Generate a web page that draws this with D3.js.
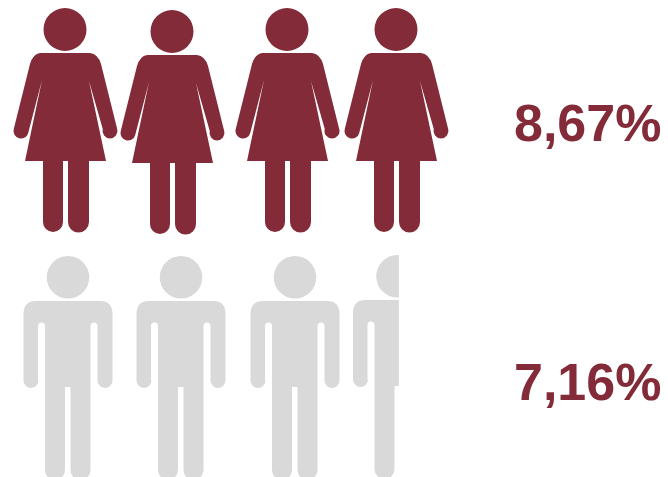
<!DOCTYPE html>
<html><head><meta charset="utf-8">
<script src="https://cdn.jsdelivr.net/npm/d3@7/dist/d3.min.js"></script>
<style>html,body{margin:0;padding:0;background:#fff}svg{display:block}</style>
</head><body>
<script>
const groups = ["Mujeres", "Hombres"];
const rates = ["8,67%", "7,16%"];
const iconCounts = [4, 3.515];

const W = 668, H = 477;
const maroon = "#832b38", gray = "#d9d9d9";
const slotX = [
  d3.scaleOrdinal().domain([0,1,2,3]).range([65,172,287,396]),
  d3.scaleOrdinal().domain([0,1,2,3]).range([68,181,295,397.5])
];
const slotY = [
  d3.scaleOrdinal().domain([0,1,2,3]).range([8,10,8,8]),
  d3.scaleOrdinal().domain([0,1,2,3]).range([256,256,256,255])
];
const color = d3.scaleOrdinal().domain(groups).range([maroon, gray]);
const textY = d3.scaleOrdinal().domain(groups).range([141, 400]);

function womanPath(){
  const p = d3.path();
  const a = 15*Math.PI/180;
  p.moveTo(-25,45);
  p.lineTo(25,45);
  p.quadraticCurveTo(33,46,36,56);
  p.lineTo(52.2,121);
  p.arc(45,123,7.5,-a,Math.PI+a);
  p.lineTo(24,73);
  p.lineTo(41,153);
  p.lineTo(24,153);
  p.lineTo(24,214);
  p.arc(13.5,214,10.5,0,Math.PI);
  p.lineTo(3,153);
  p.lineTo(-2,153);
  p.lineTo(-2,214);
  p.arc(-12,214,10,0,Math.PI);
  p.lineTo(-22,153);
  p.lineTo(-40,153);
  p.lineTo(-23,72);
  p.lineTo(-36.8,125);
  p.arc(-44,123,7.5,a,Math.PI+a);
  p.lineTo(-35,56);
  p.quadraticCurveTo(-32,46,-25,45);
  p.closePath();
  p.moveTo(21.5,21.5);
  p.arc(0,21.5,21.5,0,2*Math.PI);
  return p.toString();
}
function manPath(){
  const p = d3.path();
  p.moveTo(-32,45);
  p.lineTo(32,45);
  p.quadraticCurveTo(44.5,45,44.5,58);
  p.lineTo(44.5,124);
  p.arc(37,124.5,7.5,0,Math.PI);
  p.lineTo(29.5,70);
  p.arc(26,70,3.5,0,-Math.PI,true);
  p.lineTo(22.5,214);
  p.arc(12.5,214,10,0,Math.PI);
  p.lineTo(2.5,131);
  p.lineTo(-3,131);
  p.lineTo(-3,214);
  p.arc(-13,214,10,0,Math.PI);
  p.lineTo(-23,70);
  p.arc(-26.5,70,3.5,0,-Math.PI,true);
  p.lineTo(-30,124.5);
  p.arc(-37,124.5,7.5,0,Math.PI);
  p.lineTo(-44.5,58);
  p.quadraticCurveTo(-44.5,45,-32,45);
  p.closePath();
  p.moveTo(21.3,21.3);
  p.arc(0,21.3,21.3,0,2*Math.PI);
  return p.toString();
}
const shapes = [womanPath(), manPath()];
const halfWidth = [56, 44.5];

const svg = d3.select("body").append("svg").attr("width",W).attr("height",H);
const defs = svg.append("defs");

groups.forEach((g,gi)=>{
  const n = Math.ceil(iconCounts[gi]);
  const fill = d3.scaleLinear().domain([0,1]).range([-halfWidth[gi],halfWidth[gi]]);
  const icons = d3.range(n).map(i=>({i, frac: Math.min(1, iconCounts[gi]-i)}));
  const sel = svg.append("g").selectAll("g").data(icons).join("g")
    .attr("transform",d=>`translate(${slotX[gi](d.i)},${slotY[gi](d.i)})`);
  sel.each(function(d){
    const id = `clip-${gi}-${d.i}`;
    defs.append("clipPath").attr("id",id).append("rect")
      .attr("x",-halfWidth[gi]-2).attr("y",-5)
      .attr("width",fill(d.frac)+halfWidth[gi]+(d.frac<1?2:4)).attr("height",240);
    d3.select(this).append("path")
      .attr("d",shapes[gi]).attr("fill",color(g)).attr("clip-path",`url(#${id})`);
  });
  svg.append("text").attr("x",514).attr("y",textY(g))
    .attr("font-family","'Liberation Sans',Arial,sans-serif")
    .attr("font-weight","bold").attr("font-size",52)
    .attr("fill",maroon).text(rates[gi]);
});
</script>
</body></html>
